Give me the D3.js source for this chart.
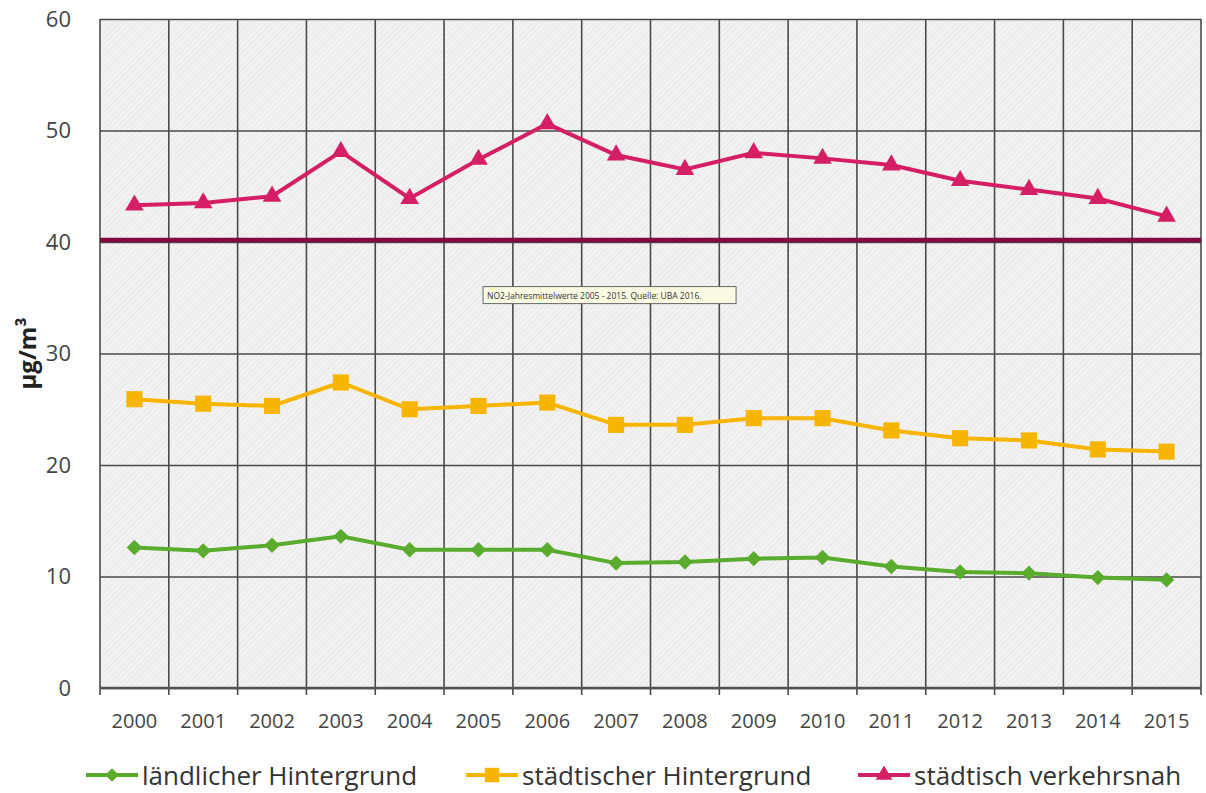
<!DOCTYPE html>
<html>
<head>
<meta charset="utf-8">
<script src="https://d3js.org/d3.v7.min.js"></script>
<style>
    body { margin: 0; background: #fff; }
    text { font-family: "Open Sans", "DejaVu Sans", sans-serif; }
    .grid line { stroke: #4a4a4a; stroke-width: 1.6px; }
    .grid .domain { display: none; }
    .ylabels .domain, .ylabels line, .xlabels .domain, .xlabels line { display: none; }
</style>
</head>
<body>
<svg id="chart" width="1206" height="793"></svg>
<script>
    // data
    const years = ["2000", "2001", "2002", "2003", "2004", "2005", "2006", "2007",
        "2008", "2009", "2010", "2011", "2012", "2013", "2014", "2015"];
    const laendlich = [12.6, 12.3, 12.8, 13.6, 12.4, 12.4, 12.4, 11.2, 11.3, 11.6, 11.7, 10.9, 10.4, 10.3, 9.9, 9.7];
    const staedtisch = [25.9, 25.5, 25.3, 27.4, 25.0, 25.3, 25.6, 23.6, 23.6, 24.2, 24.2, 23.1, 22.4, 22.2, 21.4, 21.2];
    const verkehr = [43.3, 43.5, 44.1, 48.1, 43.9, 47.4, 50.6, 47.8, 46.5, 48.0, 47.5, 46.9, 45.5, 44.7, 43.9, 42.3];
    const yTicks = [0, 10, 20, 30, 40, 50, 60];
    const limitValue = 40;

    const series = [
        { name: "ländlicher Hintergrund", values: laendlich, color: "#5aab2e", symbol: d3.symbolDiamond2, size: 150 },
        { name: "städtischer Hintergrund", values: staedtisch, color: "#f7b500", symbol: d3.symbolSquare, size: 260 },
        { name: "städtisch verkehrsnah", values: verkehr, color: "#d51f65", symbol: d3.symbolTriangle, size: 150 }
    ];

    const svg = d3.select("#chart");
    const margin = { top: 19, right: 5, bottom: 105, left: 100 };
    const width = +svg.attr("width") - margin.left - margin.right;
    const height = +svg.attr("height") - margin.top - margin.bottom;

    // hatch pattern for the plot background
    const defs = svg.append("defs");
    const pat = defs.append("pattern")
        .attr("id", "hatch")
        .attr("width", 4).attr("height", 4)
        .attr("patternUnits", "userSpaceOnUse")
        .attr("patternTransform", "rotate(45)");
    pat.append("rect").attr("width", 4).attr("height", 4).attr("fill", "#f2f2f2");
    pat.append("line").attr("x1", 0).attr("y1", 0).attr("x2", 0).attr("y2", 4)
        .attr("stroke", "#dedede").attr("stroke-width", 1);

    const g = svg.append("g").attr("transform", `translate(${margin.left},${margin.top})`);

    const x = d3.scaleBand().domain(years).range([0, width]);
    const y = d3.scaleLinear().domain([0, 60]).range([height, 0]);

    g.append("rect")
        .attr("width", width).attr("height", height)
        .attr("fill", "url(#hatch)");

    // vertical grid lines at band edges (with small ticks below)
    const edges = years.map(d => x(d)).concat([width]);
    g.append("g").attr("class", "grid")
        .selectAll("line").data(edges)
        .join("line")
        .attr("x1", d => d).attr("x2", d => d)
        .attr("y1", 0).attr("y2", height + 7);

    // horizontal grid lines
    g.append("g").attr("class", "grid")
        .call(d3.axisLeft(y).tickValues(yTicks).tickSize(-width).tickFormat(""));

    // bottom axis line
    g.append("line")
        .attr("x1", 0).attr("x2", width)
        .attr("y1", y(0)).attr("y2", y(0))
        .attr("stroke", "#555").attr("stroke-width", 2.5);

    // y labels
    g.append("g").attr("class", "ylabels")
        .call(d3.axisLeft(y).tickValues(yTicks).tickSize(0).tickPadding(29))
        .selectAll("text")
        .attr("font-size", 22).attr("fill", "#444");

    // x labels
    g.append("g").attr("class", "xlabels")
        .attr("transform", `translate(0,${height})`)
        .call(d3.axisBottom(x).tickSize(0).tickPadding(26))
        .selectAll("text")
        .attr("font-size", 20).attr("fill", "#444");

    // y title
    svg.append("text")
        .attr("transform", `translate(36,${margin.top + y(30)}) rotate(-90)`)
        .attr("text-anchor", "middle")
        .attr("font-size", 24).attr("font-weight", "bold").attr("fill", "#222")
        .text("µg/m³");

    // limit line
    g.append("line")
        .attr("x1", 0).attr("x2", width)
        .attr("y1", y(limitValue) - 2).attr("y2", y(limitValue) - 2)
        .attr("stroke", "#7d0c3c").attr("stroke-width", 4.5);

    // note box
    const note = g.append("g").attr("transform", `translate(${x("2005") + 39},${y(36)})`);
    note.append("rect")
        .attr("x", 0).attr("y", 0).attr("width", 253).attr("height", 17)
        .attr("fill", "#fbfbe4").attr("stroke", "#666").attr("stroke-width", 1);
    note.append("text")
        .attr("x", 4).attr("y", 12)
        .attr("font-size", 8.5).attr("fill", "#333")
        .text("NO2-Jahresmittelwerte 2005 - 2015. Quelle: UBA 2016.");

    // series lines and markers
    const line = d3.line()
        .x((d, i) => x(years[i]) + x.bandwidth() / 2)
        .y(d => y(d));

    series.forEach(s => {
        g.append("path")
            .datum(s.values)
            .attr("fill", "none")
            .attr("stroke", s.color)
            .attr("stroke-width", 4)
            .attr("d", line);
        g.selectAll(null).data(s.values)
            .join("path")
            .attr("transform", (d, i) => `translate(${x(years[i]) + x.bandwidth() / 2},${y(d)})`)
            .attr("fill", s.color)
            .attr("d", d3.symbol().type(s.symbol).size(s.size));
    });

    // legend
    const legendX = [86, 466, 858];
    const legend = svg.append("g").attr("transform", "translate(0,775)");
    series.forEach((s, i) => {
        const lg = legend.append("g").attr("transform", `translate(${legendX[i]},0)`);
        lg.append("line").attr("x1", 0).attr("x2", 52).attr("y1", 0).attr("y2", 0)
            .attr("stroke", s.color).attr("stroke-width", 4);
        lg.append("path").attr("transform", "translate(26,0)")
            .attr("fill", s.color)
            .attr("d", d3.symbol().type(s.symbol).size(s.size * 0.8));
        lg.append("text")
            .attr("x", 56).attr("y", 10)
            .attr("font-size", 26).attr("fill", "#333")
            .text(s.name);
    });
</script>
</body>
</html>
